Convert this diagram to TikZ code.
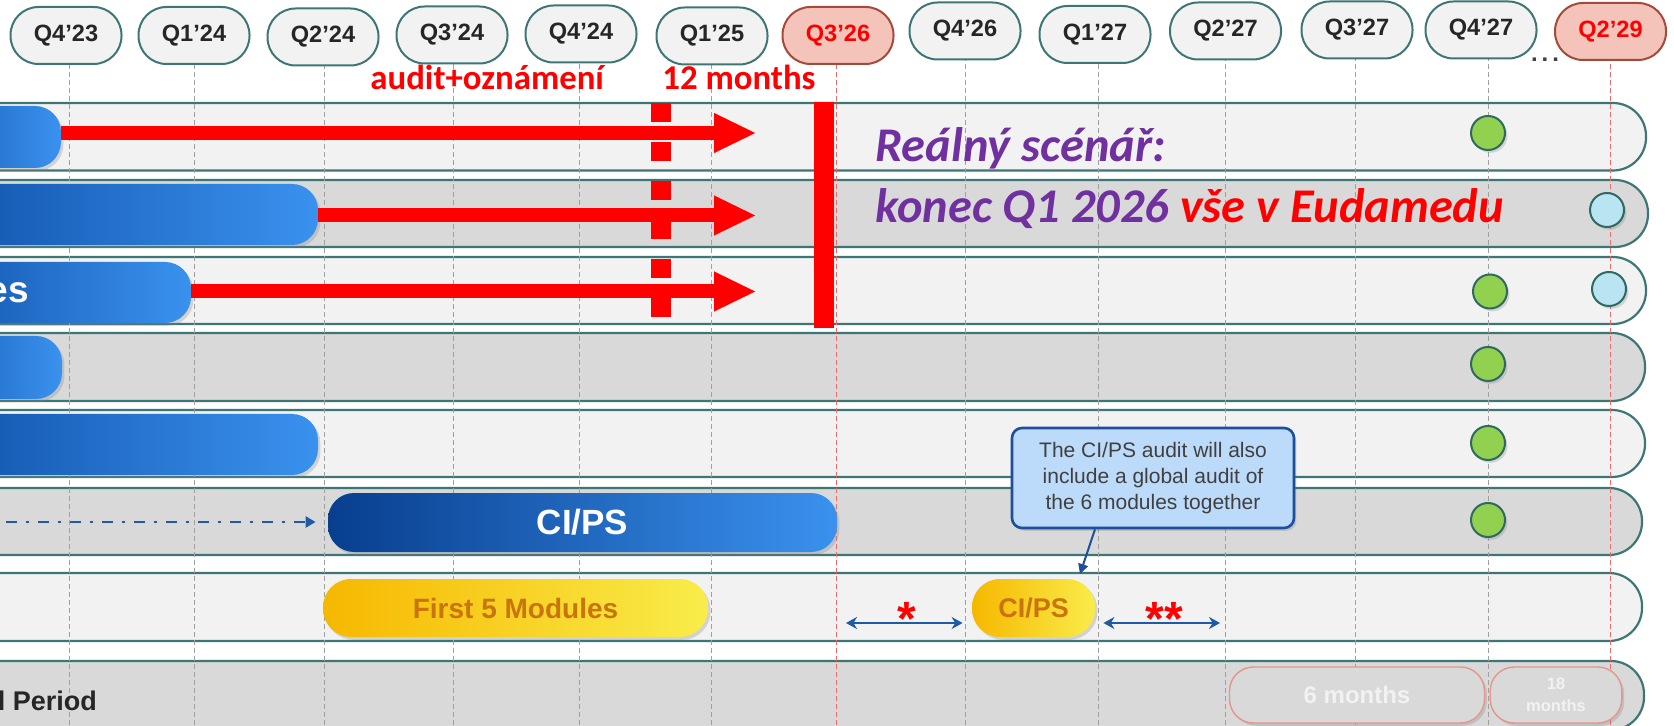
\documentclass[tikz,border=0pt]{standalone}
\usepackage{fontspec}
\setmainfont{Liberation Sans}
\newfontfamily\calfont{Carlito}
\usetikzlibrary{arrows.meta,shadows}

\definecolor{rowlight}{HTML}{F2F2F2}
\definecolor{rowdark}{HTML}{D9D9D9}
\definecolor{rowedge}{HTML}{3E7676}
\definecolor{pilltext}{HTML}{262626}
\definecolor{hotfill}{HTML}{F4C3B9}
\definecolor{hotedge}{HTML}{A5493A}
\definecolor{guidegray}{HTML}{A0A0A0}
\definecolor{guidered}{HTML}{EE6B6B}
\definecolor{bluedeep}{HTML}{0B4AA2}
\definecolor{bluelite}{HTML}{3A92EE}
\definecolor{navy}{HTML}{083E8E}
\definecolor{goldA}{HTML}{F6B800}
\definecolor{goldB}{HTML}{F9EC4A}
\definecolor{goldtext}{HTML}{C9740C}
\definecolor{arrowblue}{HTML}{1F5AA6}
\definecolor{notefill}{HTML}{BCDAFA}
\definecolor{noteedge}{HTML}{1D4F9C}
\definecolor{notetext}{HTML}{404040}
\definecolor{dotgreen}{HTML}{92D050}
\definecolor{dotedge}{HTML}{2E6A62}
\definecolor{dotcyan}{HTML}{B8E5F1}
\definecolor{scenpurple}{HTML}{7030A0}
\definecolor{monedge}{HTML}{E3968A}

\begin{document}
\begin{tikzpicture}[x=0.5pt,y=-0.5pt,
  softshadow/.style={drop shadow={shadow xshift=1.2pt,shadow yshift=-1.4pt,opacity=0.28}},
  qpill/.style={draw=rowedge,line width=1pt,fill=rowlight,rounded corners=14pt,
    minimum width=55.5pt,minimum height=28.5pt,inner sep=0pt,text=pilltext,
    font=\fontsize{11.8}{13}\selectfont\bfseries},
  hotpill/.style={qpill,draw=hotedge,fill=hotfill,text=red},
  guide/.style={draw=guidegray,line width=0.5pt,dash pattern=on 2.5pt off 1.5pt},
  redguide/.style={guide,draw=guidered},
  lane/.style={draw=rowedge,line width=1.1pt,rounded corners=16.5pt},
  bluebar/.style={rounded corners=13pt,left color=bluedeep,right color=bluelite,
    inner sep=0pt,softshadow},
  goldbar/.style={rounded corners=14pt,left color=goldA,right color=goldB,
    inner sep=0pt,text=goldtext,softshadow},
  redarrow/.style={draw=red,line width=7pt,-{Triangle[length=20.5pt,width=20pt,line width=0.01pt]}},
  redmark/.style={draw=red,line width=10pt},
  spanarrow/.style={draw=arrowblue,line width=1pt,
    {Stealth[length=5.5pt,width=6pt]}-{Stealth[length=5.5pt,width=6pt]}},
  gdot/.style={circle,draw=dotedge,line width=1pt,fill=dotgreen,minimum size=17pt,inner sep=0pt,softshadow},
  cdot/.style={gdot,fill=dotcyan},
  note/.style={draw=noteedge,fill=notefill,line width=1.3pt,rounded corners=5pt,
    minimum width=141pt,minimum height=50pt,align=center,text=notetext,
    font=\fontsize{10.5}{13}\selectfont,softshadow},
  monpill/.style={draw=monedge,line width=0.7pt,fill=rowdark,rounded corners=12pt,
    minimum height=28pt,inner sep=0pt,text=rowlight,align=center,softshadow},
  redlbl/.style={text=red,font=\calfont\bfseries\fontsize{17.4}{19}\selectfont,inner sep=0pt,anchor=base west},
  scen/.style={text=scenpurple,font=\calfont\bfseries\itshape\fontsize{24.2}{27}\selectfont,inner sep=0pt,anchor=base west},
  starlbl/.style={text=red,font=\fontsize{24}{26}\selectfont\bfseries,inner sep=0pt}
]
\useasboundingbox (0,0) rectangle (1674,726);
\clip (0,0) rectangle (1674,726);
\fill[white] (0,0) rectangle (1674,726);

% swim lanes
\draw[lane,fill=rowlight] (-60,103) rectangle (1646,170.5);
\draw[lane,fill=rowdark]  (-60,180) rectangle (1648,247);
\draw[lane,fill=rowlight] (-60,257) rectangle (1646,324);
\draw[lane,fill=rowdark]  (-60,333) rectangle (1645,401);
\draw[lane,fill=rowlight] (-60,410) rectangle (1645,477);
\draw[lane,fill=rowdark]  (-60,488) rectangle (1642,555);
\draw[lane,fill=rowlight] (-60,573) rectangle (1642,641);
\draw[lane,fill=rowdark]  (-60,661) rectangle (1644,730);

% quarter guide lines
\foreach \gx in {69,194,324,453,579,711,965,1098,1225,1355,1488}
  \draw[guide] (\gx,40) -- (\gx,726);
\foreach \gx in {836,1610}
  \draw[redguide] (\gx,40) -- (\gx,726);

% blue phase bars (their left parts run off the page)
\node[bluebar,minimum width=90.5pt,minimum height=31pt]  (b1) at (-29.5,137) {};
\node[bluebar,minimum width=219pt,minimum height=30.5pt] (b2) at (99,214.5) {};
\node[bluebar,minimum width=155.5pt,minimum height=30.5pt] (b3) at (35.5,292.5) {};
\node[bluebar,minimum width=91pt,minimum height=31.5pt]  (b4) at (-29,367.5) {};
\node[bluebar,minimum width=219pt,minimum height=30.5pt] (b5) at (99,444.5) {};
\node[text=white,font=\fontsize{18.5}{20}\selectfont\bfseries,inner sep=0pt,anchor=base east]
  (b3txt) at (29,303) {es};

% CI/PS bar with its lead-in
\node[bluebar,left color=navy,minimum width=254.5pt,minimum height=29.5pt,
  text=white,font=\fontsize{17.5}{19}\selectfont\bfseries] (cips) at (582.5,522.5) {CI/PS};
\coordinate (leadin) at (6,522);
\draw[draw=arrowblue,line width=1.4pt,dash pattern=on 5.5pt off 4.5pt on 1.5pt off 4.5pt,
  -{Triangle[length=5pt,width=5.5pt]},shorten >=6pt] (leadin) -- (cips.west |- leadin);

% audit pills
\node[goldbar,minimum width=192.5pt,minimum height=29pt,
  font=\fontsize{14}{16}\selectfont\bfseries] (first5) at (515.5,608) {First 5 Modules};
\node[goldbar,minimum width=61.5pt,minimum height=29pt,
  font=\fontsize{13.5}{15}\selectfont\bfseries] (cips2) at (1033.5,608) {CI/PS};
\coordinate (span1) at (846,623);
\coordinate (span2) at (1220,623);
\draw[spanarrow,shorten >=4.5pt] (span1) -- (cips2.west |- span1);
\draw[spanarrow,shorten <=4pt] (cips2.east |- span2) -- (span2);
\node[starlbl] (star1) at (907,619) {*};
\node[starlbl] (star2) at (1164,619) {**};

% callout
\node[note] (note) at (1153,478) {The CI/PS audit will also\\include a global audit of\\the 6 modules together};
\coordinate (notetip) at (1080,574);
\draw[draw=noteedge,line width=1pt,-{Triangle[length=5pt,width=5pt]}]
  ([xshift=-29pt]note.south) -- (notetip);

% red markers: 12-month shift
\coordinate (t1) at (755,133);
\coordinate (t2) at (755,215.5);
\coordinate (t3) at (755,291.5);
\draw[redarrow] (b1.east |- t1) -- (t1);
\draw[redarrow] (b2.east |- t2) -- (t2);
\draw[redarrow] (b3.east |- t3) -- (t3);
\coordinate (dashtop) at (661,103);
\coordinate (dashbot) at (661,317.5);
\draw[redmark,dash pattern=on 9.75pt off 9.75pt] (dashtop) -- (dashbot);
\coordinate (bartop) at (824,102);
\coordinate (barbot) at (824,328);
\draw[redmark] (bartop) -- (barbot);
\node[redlbl] (lblaudit) at (370,90) {audit+oznámení};
\node[redlbl] (lbl12) at (662,90) {12 months};

% scenario text
\node[scen] (scen1) at (875,162) {Reálný scénář:};
\node[scen] (scen2) at (875,223) {konec Q1 2026 \textcolor{red}{vše v Eudamedu}};

% milestones
\node[gdot] (g1) at (1488,133) {};
\node[gdot] (g3) at (1490,291.5) {};
\node[gdot] (g4) at (1488,364) {};
\node[gdot] (g5) at (1488,443) {};
\node[gdot] (g6) at (1488,520) {};
\node[cdot] (c2) at (1607,210) {};
\node[cdot] (c3) at (1609,289) {};

% transition period
\node[text=pilltext,font=\fontsize{13.5}{15}\selectfont\bfseries,inner sep=0pt,anchor=base west]
  (period) at (-2.5,710) {l Period};
\node[monpill,minimum width=127.5pt,font=\fontsize{12}{14}\selectfont\bfseries] (m6) at (1357,695) {6 months};
\node[monpill,minimum width=65.8pt,font=\fontsize{8.25}{11}\selectfont\bfseries] (m18) at (1556,695) {18\\months};

% quarter headers
\node[qpill] (q1) at (66,35.5) {Q4’23};
\node[qpill] (q2) at (194,35.5) {Q1’24};
\node[qpill] (q3) at (323,37) {Q2’24};
\node[qpill] (q4) at (452,35) {Q3’24};
\node[qpill] (q5) at (581,34) {Q4’24};
\node[qpill] (q6) at (712,36) {Q1’25};
\node[hotpill] (q7) at (838,35.5) {Q3’26};
\node[qpill] (q8) at (965,31) {Q4’26};
\node[qpill] (q9) at (1095,34.5) {Q1’27};
\node[qpill] (q10) at (1225.5,31) {Q2’27};
\node[qpill] (q11) at (1357,30) {Q3’27};
\node[qpill] (q12) at (1481,30) {Q4’27};
\node[hotpill] (q13) at (1610.5,31.5) {Q2’29};
\node[text=notetext,font=\fontsize{12}{14}\selectfont\bfseries,inner sep=0pt,anchor=base]
  (ellipsis) at (1545,62) {.\,.\,.};
\end{tikzpicture}
\end{document}
